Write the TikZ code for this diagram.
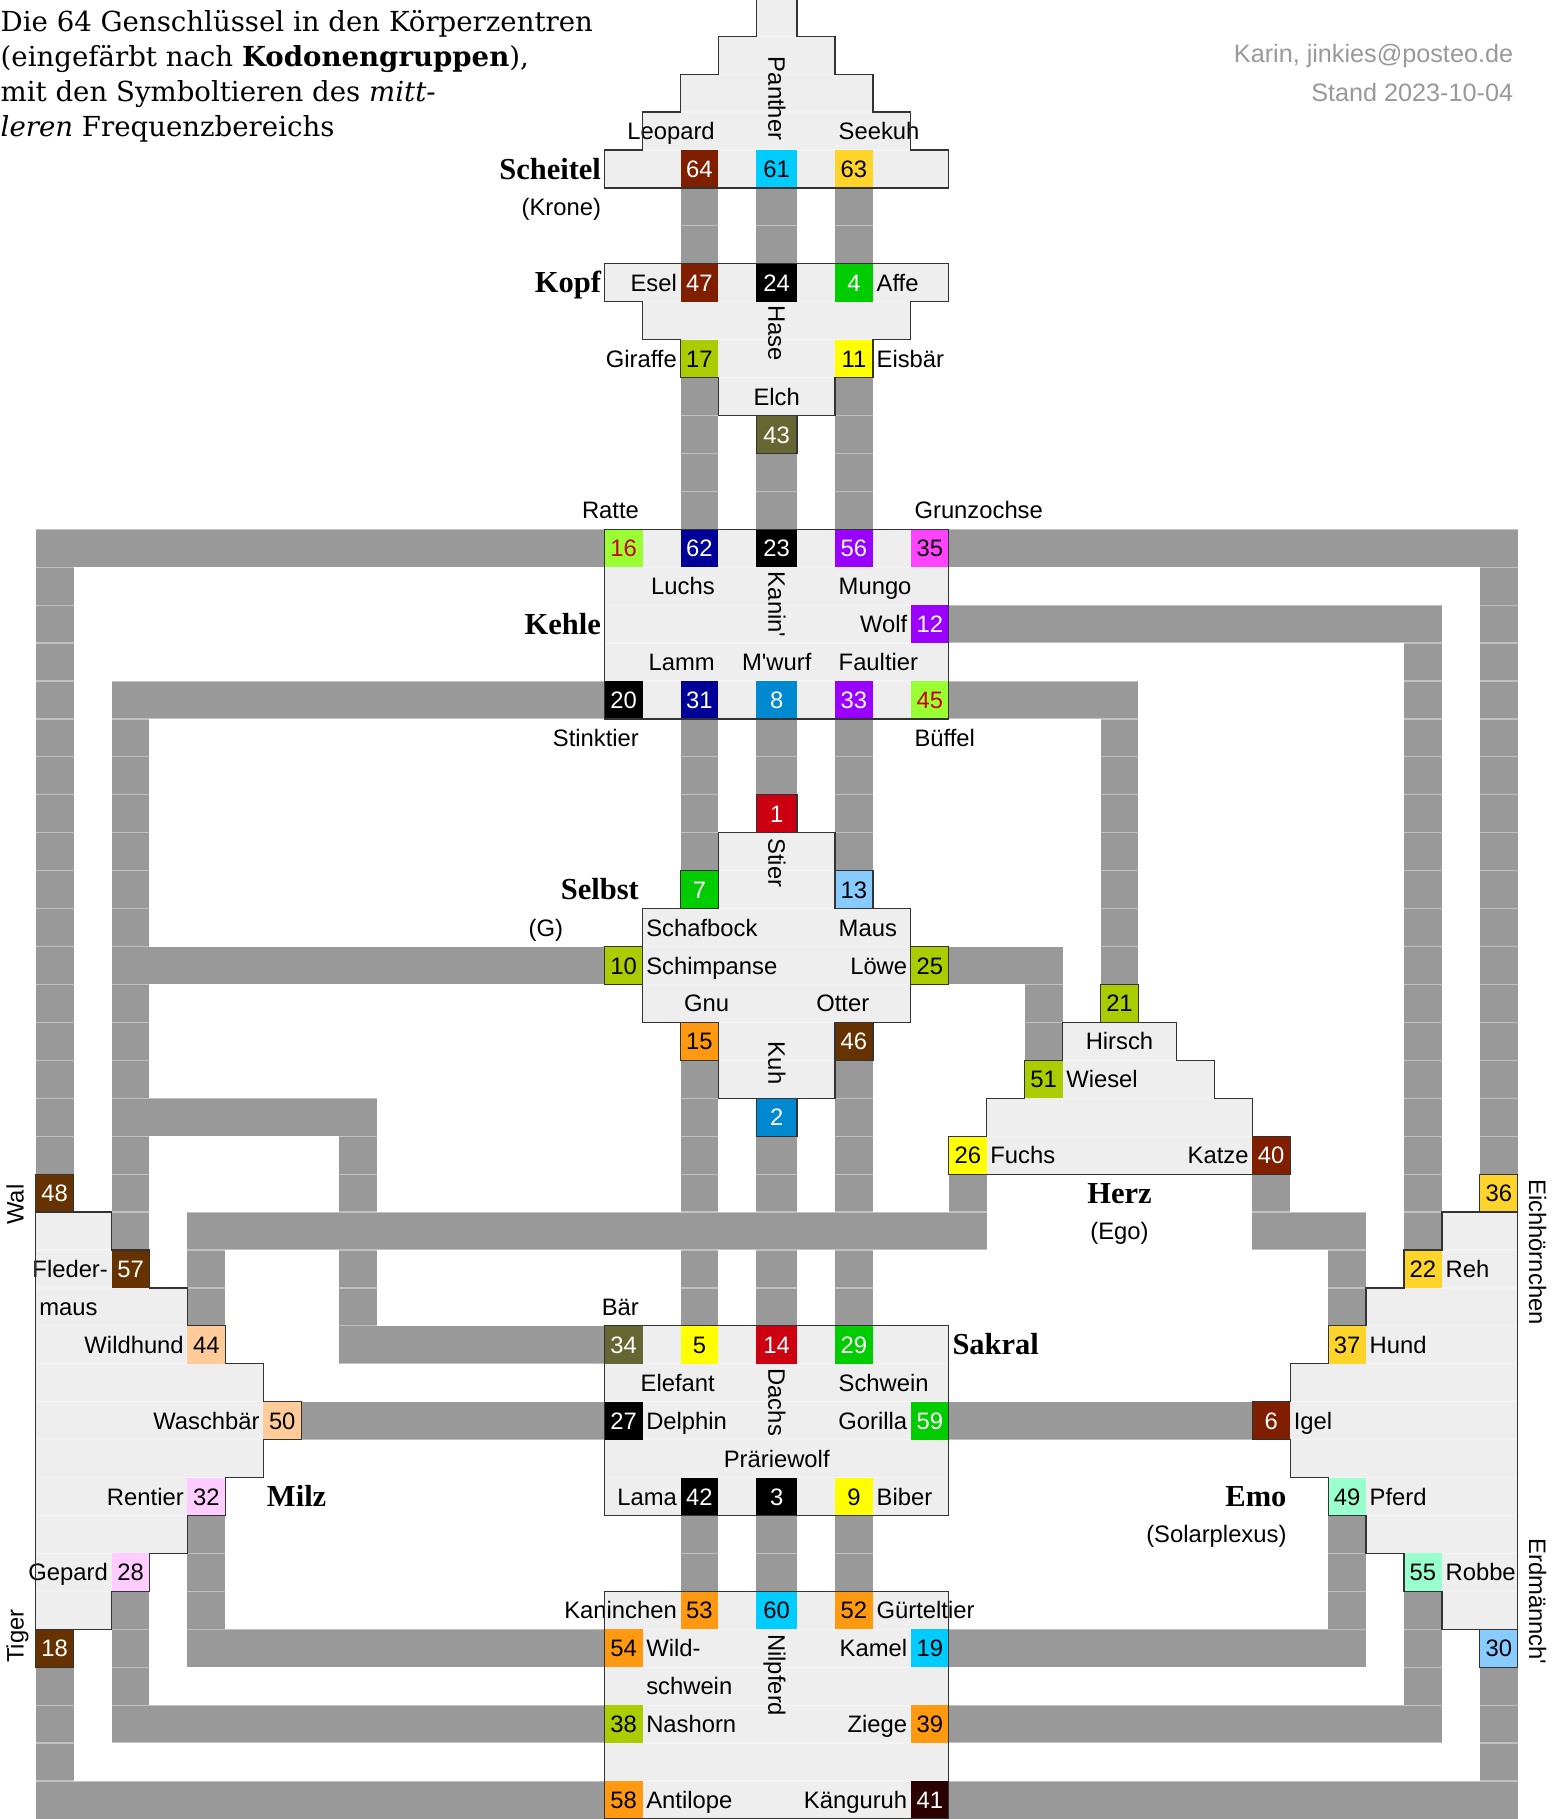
\documentclass[tikz,border=0pt]{standalone}
\usepackage{fontspec}
\newfontfamily\sansf{Liberation Sans}
\newfontfamily\seriff{Liberation Serif}
\newfontfamily\titserif{DejaVu Serif}
\newcommand\labfont{\sansf\fontsize{23.8}{28}\selectfont}
\newcommand\titfont{\titserif\fontsize{27.6}{35}\selectfont}
\newcommand\regfont{\seriff\bfseries\fontsize{30.5}{36}\selectfont}
\newcommand\credfont{\sansf\fontsize{25.2}{30}\selectfont}
\definecolor{cDR}{HTML}{801E00}
\definecolor{cCy}{HTML}{00CCFF}
\definecolor{cGo}{HTML}{FFD42A}
\definecolor{cGr}{HTML}{00CC00}
\definecolor{cYG}{HTML}{AACC00}
\definecolor{cYe}{HTML}{FFFF00}
\definecolor{cOl}{HTML}{666633}
\definecolor{cLG}{HTML}{99FF33}
\definecolor{cRt}{HTML}{CC0000}
\definecolor{cNa}{HTML}{000099}
\definecolor{cPu}{HTML}{9900FF}
\definecolor{cMa}{HTML}{FF44FF}
\definecolor{cBl}{HTML}{0088D1}
\definecolor{cRe}{HTML}{CC0011}
\definecolor{cLB}{HTML}{88CCFF}
\definecolor{cOr}{HTML}{FF9911}
\definecolor{cBr}{HTML}{663300}
\definecolor{cPe}{HTML}{FFCC99}
\definecolor{cPi}{HTML}{FFCCFF}
\definecolor{cMi}{HTML}{99FFCC}
\definecolor{cVD}{HTML}{2B0000}
\definecolor{cBar}{HTML}{999999}
\definecolor{cReg}{HTML}{EEEEEE}
\definecolor{cLine}{HTML}{333333}
\definecolor{cCred}{HTML}{999999}
\pgfmathdeclarefunction{colx}{1}{\pgfmathparse{35.7+37.93*#1+(#1>19.5)*2.77}}
\pgfmathdeclarefunction{rowy}{1}{\pgfmathparse{150+37.93*#1}}
\tikzset{
  lab/.style={font=\labfont, inner sep=0pt},
  reglab/.style={font=\regfont, inner sep=0pt},
  gnum/.style={font=\labfont, inner sep=0pt, anchor=base},
  regionfill/.style={fill=cReg},
  regionline/.style={draw=cLine, line width=1.2pt, line join=miter},
  cellline/.style={draw=cLine, line width=1.2pt},
  sepline/.style={draw=white, opacity=0.4, line width=1.2pt},
  titlab/.style={anchor=base west, font=\titfont, inner sep=0pt},
}
\newcommand\pp[2]{({colx(#1)},{rowy(#2)})}
\newcommand\gk[5]{\fill[#4] \pp{#1}{#2} rectangle \pp{#1+1}{#2+1};
  \node[gnum, text=#5] (g#3) at ({(colx(#1)+colx(#1+1))/2},{rowy(#2)+27.5}) {#3};}
\newcommand\gkb[5]{\gk{#1}{#2}{#3}{#4}{#5}\draw[cellline] \pp{#1}{#2} rectangle \pp{#1+1}{#2+1};}
\newcommand\gbar[4]{\fill[cBar] \pp{#1}{#2} rectangle \pp{#3+1}{#4+1};}
\newcommand\labR[4]{\node[lab, anchor=base east] (#1) at ({colx(#2+1)-3.5},{rowy(#3)+27.5}) {#4};}
\newcommand\labL[4]{\node[lab, anchor=base west] (#1) at ({colx(#2)+3.5},{rowy(#3)+27.5}) {#4};}
\newcommand\labC[4]{\node[lab, anchor=base] (#1) at ({(colx(#2)+colx(#2+1))/2},{rowy(#3)+27.5}) {#4};}
\newcommand\labV[3]{\node[lab, rotate=-90, anchor=base west] (#1) at (768.3,#2) {#3};}
\newcommand\polyScheitel{\pp{19}{-5} -- \pp{19}{-3} -- \pp{18}{-3} -- \pp{18}{-2} -- \pp{17}{-2} -- \pp{17}{-1} -- \pp{16}{-1} -- \pp{16}{0} -- \pp{15}{0} -- \pp{15}{1} -- \pp{24}{1} -- \pp{24}{0} -- \pp{23}{0} -- \pp{23}{-1} -- \pp{22}{-1} -- \pp{22}{-2} -- \pp{21}{-2} -- \pp{21}{-3} -- \pp{20}{-3} -- \pp{20}{-5} -- cycle}
\newcommand\polyKopf{\pp{15}{3} -- \pp{24}{3} -- \pp{24}{4} -- \pp{23}{4} -- \pp{23}{5} -- \pp{22}{5} -- \pp{22}{6} -- \pp{21}{6} -- \pp{21}{7} -- \pp{18}{7} -- \pp{18}{6} -- \pp{17}{6} -- \pp{17}{5} -- \pp{16}{5} -- \pp{16}{4} -- \pp{15}{4} -- cycle}
\newcommand\polyKehle{\pp{15}{10} rectangle \pp{24}{15}}
\newcommand\polySelbst{\pp{18}{18} -- \pp{21}{18} -- \pp{21}{20} -- \pp{23}{20} -- \pp{23}{23} -- \pp{21}{23} -- \pp{21}{25} -- \pp{18}{25} -- \pp{18}{23} -- \pp{16}{23} -- \pp{16}{20} -- \pp{18}{20} -- cycle}
\newcommand\polyHerz{\pp{27}{23} -- \pp{30}{23} -- \pp{30}{24} -- \pp{31}{24} -- \pp{31}{25} -- \pp{32}{25} -- \pp{32}{26} -- \pp{33}{26} -- \pp{33}{27} -- \pp{24}{27} -- \pp{24}{26} -- \pp{25}{26} -- \pp{25}{25} -- \pp{26}{25} -- \pp{26}{24} -- \pp{27}{24} -- cycle}
\newcommand\polyMilz{\pp{0}{28} -- \pp{2}{28} -- \pp{2}{29} -- \pp{3}{29} -- \pp{3}{30} -- \pp{4}{30} -- \pp{4}{31} -- \pp{5}{31} -- \pp{5}{32} -- \pp{6}{32} -- \pp{6}{33} -- \pp{7}{33} -- \pp{7}{34} -- \pp{6}{34} -- \pp{6}{35} -- \pp{5}{35} -- \pp{5}{36} -- \pp{4}{36} -- \pp{4}{37} -- \pp{3}{37} -- \pp{3}{38} -- \pp{2}{38} -- \pp{2}{39} -- \pp{0}{39} -- cycle}
\newcommand\polyEmo{\pp{39}{28} -- \pp{37}{28} -- \pp{37}{29} -- \pp{36}{29} -- \pp{36}{30} -- \pp{35}{30} -- \pp{35}{31} -- \pp{34}{31} -- \pp{34}{32} -- \pp{33}{32} -- \pp{33}{33} -- \pp{32}{33} -- \pp{32}{34} -- \pp{33}{34} -- \pp{33}{35} -- \pp{34}{35} -- \pp{34}{36} -- \pp{35}{36} -- \pp{35}{37} -- \pp{36}{37} -- \pp{36}{38} -- \pp{37}{38} -- \pp{37}{39} -- \pp{39}{39} -- cycle}
\newcommand\polySakral{\pp{15}{31} rectangle \pp{24}{36}}
\newcommand\polyWurzel{\pp{15}{38} rectangle \pp{24}{44}}
\begin{document}
\begin{tikzpicture}[x=1pt,y=-1pt]
\useasboundingbox (0,0) rectangle (1551,1819);
\fill[white] (0,0) rectangle (1551,1819);
% regions
\path[regionfill] \polyScheitel;
\path[regionfill] \polyKopf;
\path[regionfill] \polyKehle;
\path[regionfill] \polySelbst;
\path[regionfill] \polyHerz;
\path[regionfill] \polyMilz;
\path[regionfill] \polyEmo;
\path[regionfill] \polySakral;
\path[regionfill] \polyWurzel;
% bars
\gbar{17}{1}{17}{2} \gbar{19}{1}{19}{2} \gbar{21}{1}{21}{2}
\gbar{17}{6}{17}{9} \gbar{19}{8}{19}{9} \gbar{21}{6}{21}{9}
\gbar{17}{15}{17}{18} \gbar{19}{15}{19}{16} \gbar{21}{15}{21}{18}
\gbar{17}{24}{17}{30} \gbar{19}{26}{19}{30} \gbar{21}{24}{21}{30}
\gbar{17}{36}{17}{37} \gbar{19}{36}{19}{37} \gbar{21}{36}{21}{37}
\gbar{0}{10}{14}{10} \gbar{0}{11}{0}{26}
\gbar{24}{10}{38}{10} \gbar{38}{11}{38}{26}
\gbar{24}{12}{36}{12} \gbar{36}{13}{36}{28}
\gbar{2}{14}{14}{14} \gbar{2}{15}{2}{28}
\gbar{3}{21}{14}{21}
\gbar{3}{25}{8}{25} \gbar{8}{26}{8}{31} \gbar{9}{31}{14}{31}
\gbar{24}{14}{28}{14} \gbar{28}{15}{28}{21}
\gbar{24}{21}{26}{21} \gbar{26}{22}{26}{23}
\gbar{24}{27}{24}{28} \gbar{4}{28}{23}{28} \gbar{4}{29}{4}{30}
\gbar{32}{27}{32}{28} \gbar{33}{28}{34}{28} \gbar{34}{29}{34}{30}
\gbar{7}{33}{14}{33}
\gbar{24}{33}{31}{33}
\gbar{4}{36}{4}{39} \gbar{5}{39}{14}{39}
\gbar{2}{38}{2}{41} \gbar{3}{41}{14}{41}
\gbar{0}{40}{0}{43} \gbar{1}{43}{14}{43}
\gbar{34}{36}{34}{39} \gbar{24}{39}{33}{39}
\gbar{36}{38}{36}{41} \gbar{24}{41}{35}{41}
\gbar{38}{40}{38}{43} \gbar{24}{43}{37}{43}
% row separators
\foreach \k in {-3,...,43} \draw[sepline] (0,{rowy(\k)}) -- (1551,{rowy(\k)});
% gates
\gk{17}{0}{64}{cDR}{white} \gk{19}{0}{61}{cCy}{black} \gk{21}{0}{63}{cGo}{black}
\gk{17}{3}{47}{cDR}{white} \gk{19}{3}{24}{black}{white} \gk{21}{3}{4}{cGr}{white}
\gk{17}{5}{17}{cYG}{black} \gk{21}{5}{11}{cYe}{black} \gkb{19}{7}{43}{cOl}{white}
\gk{15}{10}{16}{cLG}{cRt} \gk{17}{10}{62}{cNa}{white} \gk{19}{10}{23}{black}{white}
\gk{21}{10}{56}{cPu}{white} \gk{23}{10}{35}{cMa}{black} \gk{23}{12}{12}{cPu}{white}
\gk{15}{14}{20}{black}{white} \gk{17}{14}{31}{cNa}{white} \gk{19}{14}{8}{cBl}{white}
\gk{21}{14}{33}{cPu}{white} \gk{23}{14}{45}{cLG}{cRt}
\gkb{19}{17}{1}{cRe}{white} \gkb{17}{19}{7}{cGr}{white} \gkb{21}{19}{13}{cLB}{black}
\gkb{15}{21}{10}{cYG}{black} \gkb{23}{21}{25}{cYG}{black} \gkb{17}{23}{15}{cOr}{black}
\gkb{21}{23}{46}{cBr}{white} \gkb{19}{25}{2}{cBl}{white}
\gkb{28}{22}{21}{cYG}{black} \gk{26}{24}{51}{cYG}{black} \gk{24}{26}{26}{cYe}{black} \gk{32}{26}{40}{cDR}{white}
\gkb{0}{27}{48}{cBr}{white} \gk{2}{29}{57}{cBr}{white} \gk{4}{31}{44}{cPe}{black}
\gk{6}{33}{50}{cPe}{black} \gk{4}{35}{32}{cPi}{black} \gk{2}{37}{28}{cPi}{black} \gkb{0}{39}{18}{cBr}{white}
\gkb{38}{27}{36}{cGo}{black} \gk{36}{29}{22}{cGo}{black} \gk{34}{31}{37}{cGo}{black}
\gk{32}{33}{6}{cDR}{white} \gk{34}{35}{49}{cMi}{black} \gk{36}{37}{55}{cMi}{black} \gkb{38}{39}{30}{cLB}{black}
\gk{15}{31}{34}{cOl}{white} \gk{17}{31}{5}{cYe}{black} \gk{19}{31}{14}{cRe}{white} \gk{21}{31}{29}{cGr}{white}
\gk{15}{33}{27}{black}{white} \gk{23}{33}{59}{cGr}{white}
\gk{17}{35}{42}{black}{white} \gk{19}{35}{3}{black}{white} \gk{21}{35}{9}{cYe}{black}
\gk{17}{38}{53}{cOr}{black} \gk{19}{38}{60}{cCy}{black} \gk{21}{38}{52}{cOr}{black}
\gk{15}{39}{54}{cOr}{black} \gk{23}{39}{19}{cCy}{black} \gk{15}{41}{38}{cYG}{black}
\gk{23}{41}{39}{cOr}{black} \gk{15}{43}{58}{cOr}{black} \gk{23}{43}{41}{cVD}{white}
% title and credits
\node[titlab] (title1) at (0.5,31.7) {Die 64 Genschlüssel in den Körperzentren};
\node[titlab] (title2) at (0.5,66.7) {(eingefärbt nach \textbf{Kodonengruppen}),};
\node[titlab] (title3) at (0.5,101.7) {mit den Symboltieren des \textit{mitt-}};
\node[titlab] (title4) at (0.5,136.7) {\textit{leren} Frequenzbereichs};
\node[anchor=base east, font=\credfont, text=cCred, inner sep=0pt] (cred1) at (1513.3,62.3) {Karin, jinkies@posteo.de};
\node[anchor=base east, font=\credfont, text=cCred, inner sep=0pt] (cred2) at (1513.3,101.7) {Stand 2023-10-04};
% centre names
\node[reglab, anchor=base east] (nScheitel) at ({colx(15)-3.5},{rowy(0)+29.1}) {Scheitel};
\node[reglab, anchor=base east] (nKopf) at ({colx(15)-3.5},{rowy(3)+29.1}) {Kopf};
\node[reglab, anchor=base east] (nKehle) at ({colx(15)-3.5},{rowy(12)+29.1}) {Kehle};
\node[reglab, anchor=base east] (nSelbst) at ({colx(16)-3.5},{rowy(19)+29.1}) {Selbst};
\node[reglab, anchor=base] (nHerz) at ({(colx(28)+colx(29))/2},{rowy(27)+29.1}) {Herz};
\node[reglab, anchor=base west] (nMilz) at ({colx(6)+3.5},{rowy(35)+29.1}) {Milz};
\node[reglab, anchor=base west] (nSakral) at ({colx(24)+3.5},{rowy(31)+29.1}) {Sakral};
\node[reglab, anchor=base east] (nEmo) at ({colx(33)-3.5},{rowy(35)+29.1}) {Emo};
\labR{pKrone}{14}{1}{(Krone)}
\labR{pG}{13}{20}{(G)}
\labC{pEgo}{28}{28}{(Ego)}
\labR{pSolar}{32}{36}{(Solarplexus)}
% animals
\labR{aLeopard}{17}{-1}{Leopard}
\labL{aSeekuh}{21}{-1}{Seekuh}
\labV{aPanther}{56.7}{Panther}
\labR{aEsel}{16}{3}{Esel}
\labL{aAffe}{22}{3}{Affe}
\labV{aHase}{305}{Hase}
\labR{aGiraffe}{16}{5}{Giraffe}
\labL{aEisbaer}{22}{5}{Eisbär}
\labC{aElch}{19}{6}{Elch}
\labR{aRatte}{15}{9}{Ratte}
\labL{aGrunzochse}{23}{9}{Grunzochse}
\labR{aLuchs}{17}{11}{Luchs}
\labV{aKanin}{571.7}{Kanin\textquotesingle}
\labL{aMungo}{21}{11}{Mungo}
\labR{aWolf}{22}{12}{Wolf}
\labR{aLamm}{17}{13}{Lamm}
\labC{aMwurf}{19}{13}{M\textquotesingle wurf}
\labL{aFaultier}{21}{13}{Faultier}
\labR{aStinktier}{15}{15}{Stinktier}
\labL{aBueffel}{23}{15}{Büffel}
\labV{aStier}{838.3}{Stier}
\labL{aSchafbock}{16}{20}{Schafbock}
\labL{aMaus}{21}{20}{Maus}
\labL{aSchimpanse}{16}{21}{Schimpanse}
\labR{aLoewe}{22}{21}{Löwe}
\labL{aGnu}{17}{22}{Gnu}
\labR{aOtter}{21}{22}{Otter}
\labV{aKuh}{1041.7}{Kuh}
\labC{aHirsch}{28}{23}{Hirsch}
\labL{aWiesel}{27}{24}{Wiesel}
\labL{aFuchs}{25}{26}{Fuchs}
\labR{aKatze}{31}{26}{Katze}
\node[lab, rotate=90, anchor=base west] (aWal) at (23.5,1225) {Wal};
\labR{aFleder}{1}{29}{Fleder-}
\labL{aMaus2}{0}{30}{maus}
\labR{aWildhund}{3}{31}{Wildhund}
\labR{aWaschbaer}{5}{33}{Waschbär}
\labR{aRentier}{3}{35}{Rentier}
\labR{aGepard}{1}{37}{Gepard}
\node[lab, rotate=90, anchor=base west] (aTiger) at (23.5,1663) {Tiger};
\node[lab, rotate=-90, anchor=base west] (aEich) at (1529,1179) {Eichhörnchen};
\labL{aReh}{37}{29}{Reh}
\labL{aHund}{35}{31}{Hund}
\labL{aIgel}{33}{33}{Igel}
\labL{aPferd}{35}{35}{Pferd}
\labL{aRobbe}{37}{37}{Robbe}
\node[lab, rotate=-90, anchor=base west] (aErd) at (1529,1538) {Erdmännch\textquotesingle};
\labR{aBaer}{15}{30}{Bär}
\labR{aElefant}{17}{32}{Elefant}
\labL{aSchwein}{21}{32}{Schwein}
\labL{aDelphin}{16}{33}{Delphin}
\labV{aDachs}{1368.3}{Dachs}
\labR{aGorilla}{22}{33}{Gorilla}
\labC{aPraerie}{19}{34}{Präriewolf}
\labR{aLama}{16}{35}{Lama}
\labL{aBiber}{22}{35}{Biber}
\labR{aKaninchen}{16}{38}{Kaninchen}
\labL{aGuertel}{22}{38}{Gürteltier}
\labL{aWild}{16}{39}{Wild-}
\labL{aSchwein2}{16}{40}{schwein}
\labR{aKamel}{22}{39}{Kamel}
\labV{aNilpferd}{1634}{Nilpferd}
\labL{aNashorn}{16}{41}{Nashorn}
\labR{aZiege}{22}{41}{Ziege}
\labL{aAntilope}{16}{43}{Antilope}
\labR{aKaenguruh}{22}{43}{Känguruh}
% region outlines
\draw[regionline] \polyScheitel;
\draw[regionline] \polyKopf;
\draw[regionline] \polyKehle;
\draw[regionline] \polySelbst;
\draw[regionline] \polyHerz;
\draw[regionline] \polyMilz;
\draw[regionline] \polyEmo;
\draw[regionline] \polySakral;
\draw[regionline] \polyWurzel;
\end{tikzpicture}
\end{document}
